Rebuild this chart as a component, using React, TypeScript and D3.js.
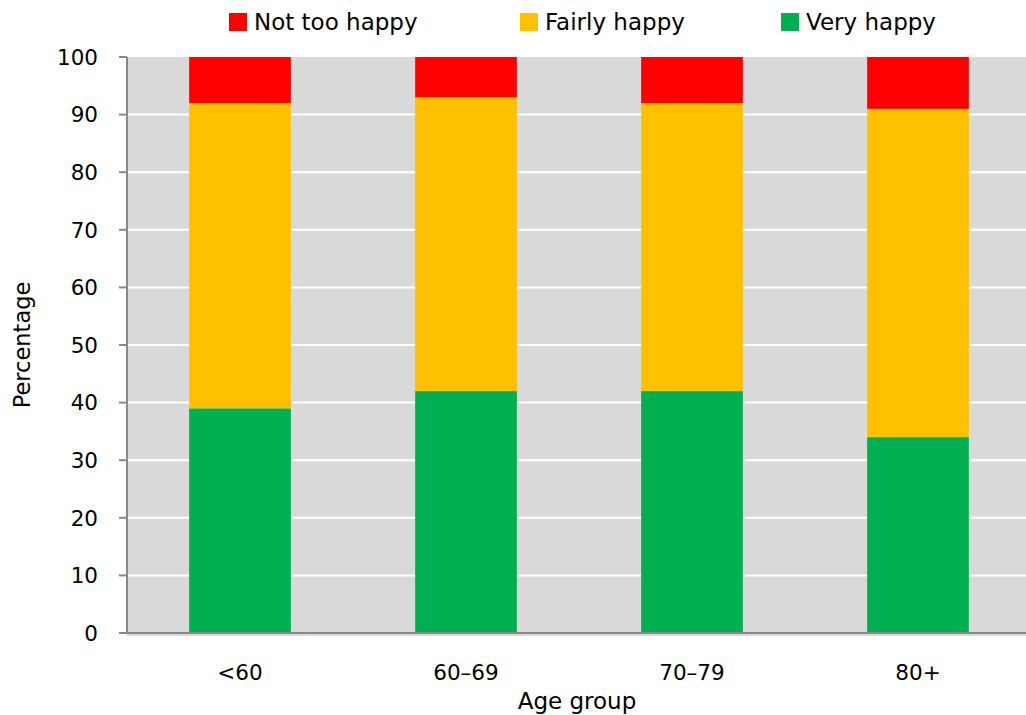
import React from "react";
import * as d3 from "d3";

const categories = ["<60", "60–69", "70–79", "80+"];
const veryHappy = [39, 42, 42, 34];
const fairlyHappy = [53, 51, 50, 57];
const notTooHappy = [8, 7, 8, 9];
const yTicks = [0, 10, 20, 30, 40, 50, 60, 70, 80, 90, 100];

const seriesKeys = ["very", "fairly", "not"];
const seriesNames: Record<string, string> = { not: "Not too happy", fairly: "Fairly happy", very: "Very happy" };
const colors: Record<string, string> = { not: "#FF0000", fairly: "#FFC000", very: "#00B050" };
const legendOrder = ["not", "fairly", "very"];

const W = 1026, H = 715;
const FONT = "'DejaVu Sans', sans-serif";

export default function App() {
  const rows = categories.map((c, i) => ({ cat: c, very: veryHappy[i], fairly: fairlyHappy[i], not: notTooHappy[i] }));
  const stack = d3.stack<any>().keys(seriesKeys)(rows);
  const x = d3.scaleBand().domain(categories).range([127, 1031]).paddingInner(0.55).paddingOuter(0.275);
  const y = d3.scaleLinear().domain([0, 100]).range([633, 57]);
  const legendX = [229, 520, 781];

  return (
    <svg width={W} height={H} style={{ position: "absolute", left: 0, top: 0, background: "#fff" }} fontFamily={FONT}>
      <rect x={127} y={y(100)} width={W - 127} height={y(0) - y(100) + 3} fill="#D9D9D9" />
      {yTicks.filter(t => t > 0 && t < 100).map(t => (
        <line key={t} x1={127} x2={W} y1={y(t)} y2={y(t)} stroke="#fff" strokeWidth={2} />
      ))}
      {stack.map(s => (
        <g key={s.key} fill={colors[s.key]}>
          {s.map((d: any, i: number) => (
            <rect key={i} x={x(categories[i])} y={y(d[1])} width={x.bandwidth()} height={y(d[0]) - y(d[1])} />
          ))}
        </g>
      ))}
      <line x1={127} x2={127} y1={y(100)} y2={y(0)} stroke="#898989" strokeWidth={2} />
      <line x1={119} x2={W} y1={y(0)} y2={y(0)} stroke="#898989" strokeWidth={2} />
      {yTicks.map(t => (
        <g key={t}>
          <line x1={119} x2={127} y1={y(t)} y2={y(t)} stroke="#898989" strokeWidth={2} />
          <text x={98} y={y(t)} dy="0.36em" textAnchor="end" fontSize={21.5} fill="#000">{t}</text>
        </g>
      ))}
      {categories.map(c => (
        <text key={c} x={(x(c) as number) + x.bandwidth() / 2} y={680} textAnchor="middle" fontSize={21.5} fill="#000">{c}</text>
      ))}
      <text x={577} y={709} textAnchor="middle" fontSize={23} fill="#000">Age group</text>
      <text transform={`translate(30,345) rotate(-90)`} textAnchor="middle" fontSize={22.5} fill="#000">Percentage</text>
      {legendOrder.map((k, i) => (
        <g key={k}>
          <rect x={legendX[i]} y={13} width={18} height={18} fill={colors[k]} />
          <text x={legendX[i] + 25} y={30} fontSize={23} fill="#000">{seriesNames[k]}</text>
        </g>
      ))}
    </svg>
  );
}
